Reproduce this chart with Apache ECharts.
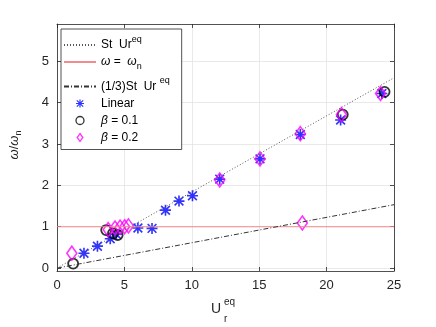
<!DOCTYPE html>
<html><head><meta charset="utf-8">
<script src="https://cdn.jsdelivr.net/npm/echarts@6/dist/echarts.min.js"></script>
<style>html,body{margin:0;padding:0;background:#fff}#chart{width:436px;height:327px}</style>
</head><body><div id="chart"></div>
<script>
// reference lines (x ends, y values at those ends)
var refX = [0, 25];
var stLineY = [0, 4.6];
var thirdLineY = [0, 1.533];
var unitY = [1, 1];

// Linear
var linearX = [2.0, 3.0, 3.95, 4.4, 6.0, 7.05, 8.05, 9.05, 10.05, 12.07, 15.06, 18.05, 21.04, 24.1];
var linearY = [0.36, 0.53, 0.71, 0.82, 0.97, 0.96, 1.40, 1.62, 1.75, 2.15, 2.64, 3.23, 3.58, 4.22];
// beta = 0.1
var b1X = [1.2, 3.65, 4.15, 4.5, 21.2, 24.3];
var b1Y = [0.11, 0.92, 0.84, 0.80, 3.71, 4.26];
// beta = 0.2
var b2X = [1.1, 3.8, 4.3, 4.68, 5.02, 5.3, 12.07, 15.06, 18.05, 18.2, 21.1, 24.0];
var b2Y = [0.36, 0.93, 0.97, 0.99, 1.0, 1.02, 2.13, 2.64, 3.25, 1.09, 3.71, 4.22];

var xTicks = [0, 5, 10, 15, 20];
var yTicks = [0, 1, 2, 3, 4, 5];

function zip(a, b){ var r=[]; for(var i=0;i<a.length;i++) r.push([a[i], b[i]]); return r; }

var star = 'path://M8.5 0H11.5V20H8.5Z M0 8.5H20V11.5H0Z M1 3.1L3.1 1L19 16.9L16.9 19Z M16.9 1L19 3.1L3.1 19L1 16.9Z';
var diam = 'path://M5 0L10 7L5 14L0 7Z';
var font = 'Liberation Sans';
var axCol = '#262626';

var legendText = {
  st: 'St  Ur{sup|eq}',
  wn: '{i|ω} =  {i|ω}{sub|n}',
  third: '(1/3)St  Ur {sup|eq}',
  Linear: 'Linear',
  b1: '{i|β} = 0.1',
  b2: '{i|β} = 0.2'
};

var chart = echarts.init(document.getElementById('chart'), null, {renderer:'canvas'});
var baseAxis = {
  axisLine:{show:true, onZero:false, lineStyle:{color:axCol, width:0.8}},
  axisTick:{show:true, inside:true, length:4, lineStyle:{color:axCol, width:0.8}},
  axisLabel:{color:axCol, fontFamily:font, fontSize:13}
};
var noSym = {color:'rgba(0,0,0,0)', borderColor:'rgba(0,0,0,0)'};
chart.setOption({
  animation:false,
  grid:{left:57, right:42, top:24, bottom:56, containLabel:false},
  xAxis:[
    Object.assign({}, baseAxis, {type:'value', min:0, max:25, interval:5, position:'bottom',
      axisLabel:Object.assign({}, baseAxis.axisLabel, {margin:8}),
      splitLine:{show:true, lineStyle:{color:'#e3e3e3', width:0.8}}}),
    Object.assign({}, baseAxis, {type:'value', min:0, max:25, interval:5, position:'top',
      axisLabel:{show:false}, splitLine:{show:false}})
  ],
  yAxis:[
    Object.assign({}, baseAxis, {type:'value', min:-0.07, max:5.9, position:'left',
      axisTick:Object.assign({}, baseAxis.axisTick, {customValues:yTicks}),
      axisLabel:Object.assign({}, baseAxis.axisLabel, {margin:8, customValues:yTicks}),
      splitLine:{show:true, lineStyle:{color:'#e3e3e3', width:0.8}}}),
    Object.assign({}, baseAxis, {type:'value', min:-0.07, max:5.9, position:'right',
      axisTick:Object.assign({}, baseAxis.axisTick, {customValues:yTicks}),
      axisLabel:{show:false}, splitLine:{show:false}})
  ],
  legend:{
    orient:'vertical', left:61, top:29, itemWidth:32, itemHeight:8, itemGap:5,
    padding:[6,12,6,2], backgroundColor:'#fff', borderColor:'#262626', borderWidth:0.8,
    data:['st','wn','third',
      {name:'Linear', icon:star},
      {name:'b1', icon:'circle', itemStyle:{borderWidth:1.3}},
      {name:'b2', icon:diam, itemStyle:{borderWidth:1.3}}],
    formatter:function(n){ return legendText[n]; },
    textStyle:{fontFamily:font, fontSize:12, color:'#000',
      rich:{
        sup:{fontFamily:font, fontSize:9, padding:[0,0,11,0]},
        sub:{fontFamily:font, fontSize:9, padding:[10,0,0,0]},
        i:{fontFamily:font, fontSize:12, fontStyle:'italic'}
      }}
  },
  graphic:[
    {type:'text', left:211, top:302, style:{text:'U', fontFamily:font, fontSize:14, fill:axCol}},
    {type:'text', left:224, top:297, style:{text:'eq', fontFamily:font, fontSize:10, fill:axCol}},
    {type:'text', left:224, top:314, style:{text:'r', fontFamily:font, fontSize:10, fill:axCol}},
    {type:'text', x:14, y:145, rotation:Math.PI/2,
      style:{text:'{i|ω}/{i|ω}{sub|n}', align:'center', verticalAlign:'middle', fontFamily:font, fontSize:13, fill:axCol,
        rich:{i:{fontFamily:font, fontSize:13, fontStyle:'italic', fill:axCol}, sub:{fontFamily:font, fontSize:9, padding:[9,0,0,0], fill:axCol}}}}
  ],
  series:[
    {name:'st', type:'line', data:zip(refX, stLineY), symbol:'none', silent:true, itemStyle:noSym,
      lineStyle:{color:'#555', width:1, type:[1,2]}},
    {name:'wn', type:'line', data:zip(refX, unitY), symbol:'none', silent:true, itemStyle:noSym,
      lineStyle:{color:'#f28b8b', width:1.2}},
    {name:'third', type:'line', data:zip(refX, thirdLineY), symbol:'none', silent:true, itemStyle:noSym,
      lineStyle:{color:'#333', width:1, type:[5,2,1,2]}},
    {name:'Linear', type:'scatter', data:zip(linearX, linearY), symbol:star, symbolSize:11,
      itemStyle:{color:'#0000ff'}},
    {name:'b1', type:'scatter', data:zip(b1X, b1Y), symbol:'circle', symbolSize:10,
      itemStyle:{color:'rgba(0,0,0,0)', borderColor:'#000', borderWidth:1.8}},
    {name:'b2', type:'scatter', data:zip(b2X, b2Y), symbol:diam, symbolSize:[10,14],
      itemStyle:{color:'rgba(0,0,0,0)', borderColor:'#ff00ff', borderWidth:1.6}}
  ]
});
</script></body></html>
